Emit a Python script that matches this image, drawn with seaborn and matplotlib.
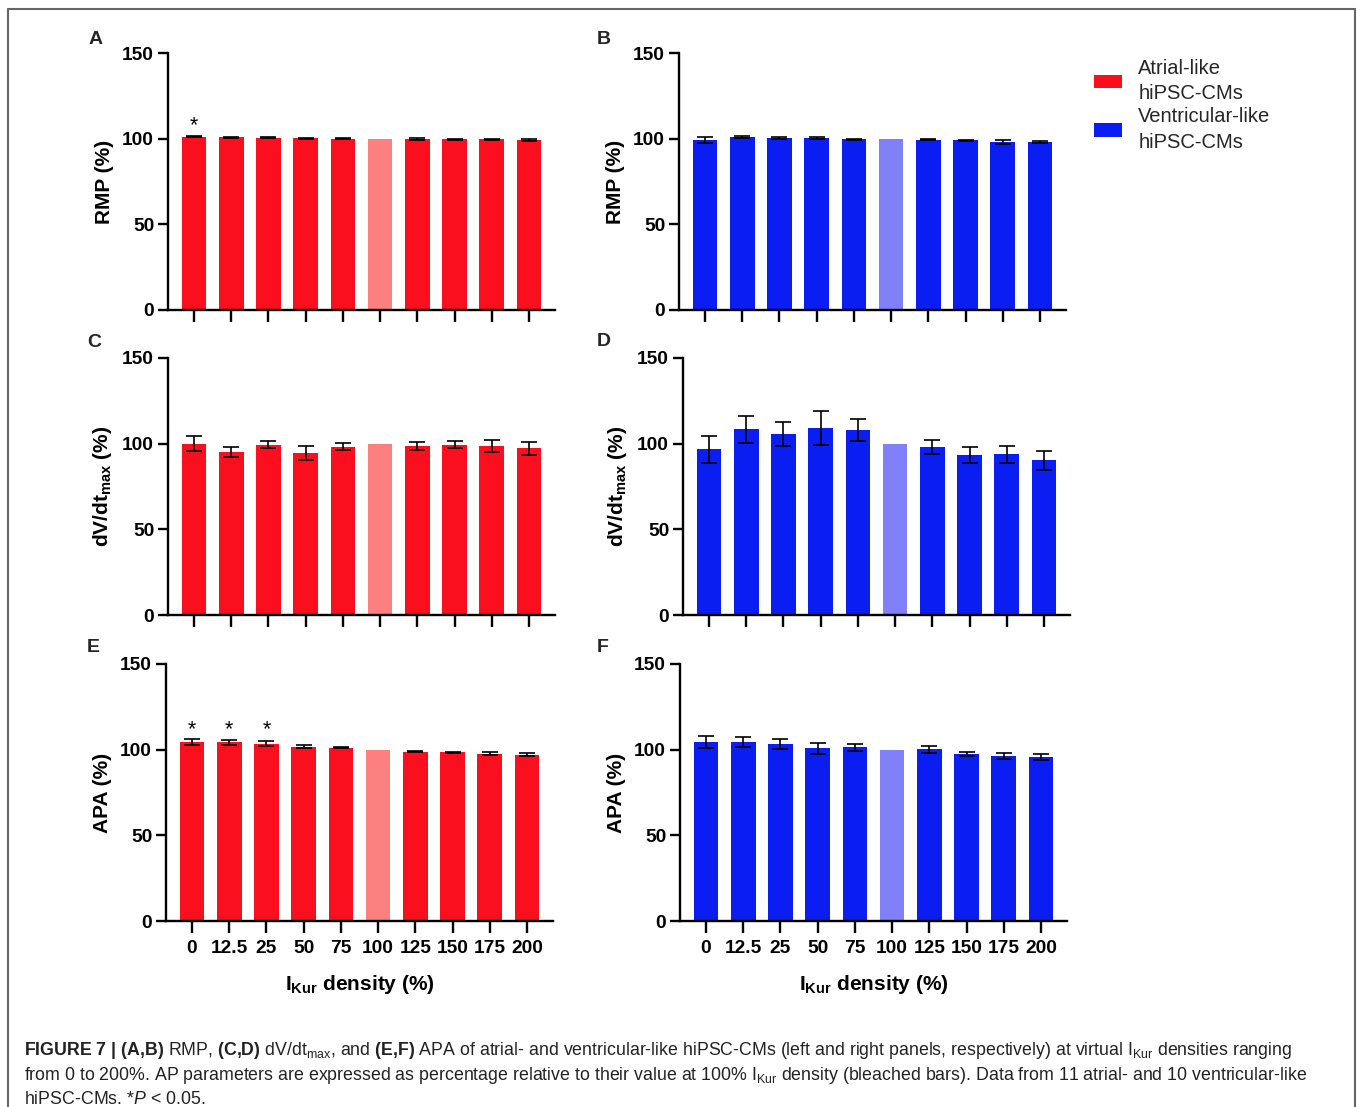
import numpy as np
import pandas as pd
import matplotlib
matplotlib.use("Agg")
import matplotlib.pyplot as plt
import seaborn as sns
from matplotlib.patches import Patch
from matplotlib.lines import Line2D

# ---------------- data ----------------
densities = ["0", "12.5", "25", "50", "75", "100", "125", "150", "175", "200"]

rmp_atrial = [101.2, 100.8, 100.6, 100.3, 100.0, 100.0, 99.8, 99.7, 99.6, 99.3]
rmp_atrial_err = [0.5, 0.4, 0.4, 0.3, 0.2, 0.0, 0.3, 0.3, 0.4, 0.5]
rmp_vent = [99.2, 100.8, 100.3, 100.3, 99.6, 100.0, 99.5, 99.2, 97.9, 98.2]
rmp_vent_err = [1.7, 0.6, 0.4, 0.7, 0.4, 0.0, 0.4, 0.3, 1.1, 0.6]

dvdt_atrial = [100.0, 95.3, 99.4, 94.7, 98.3, 100.0, 98.8, 99.4, 98.6, 97.3]
dvdt_atrial_err = [4.5, 3.0, 2.2, 4.0, 2.0, 0.0, 2.3, 2.2, 3.5, 3.7]
dvdt_vent = [96.7, 108.4, 105.8, 109.1, 108.2, 100.0, 97.9, 93.3, 93.7, 90.3]
dvdt_vent_err = [7.7, 8.0, 6.9, 10.0, 6.4, 0.0, 4.2, 4.5, 4.8, 5.4]

apa_atrial = [104.3, 104.3, 103.5, 101.8, 101.0, 100.0, 98.8, 98.4, 97.7, 97.1]
apa_atrial_err = [1.8, 1.5, 1.4, 0.8, 0.3, 0.0, 0.3, 0.3, 0.8, 1.0]
apa_vent = [104.5, 104.3, 103.3, 100.8, 101.4, 100.0, 100.2, 97.3, 96.3, 95.7]
apa_vent_err = [3.4, 2.9, 3.2, 3.3, 1.9, 0.0, 1.9, 1.2, 2.0, 1.9]

sig_rmp_atrial = ["0"]
sig_apa_atrial = ["0", "12.5", "25"]
reference_density = "100"

y_ticks = [0, 50, 100, 150]

# ---------------- style ----------------
sns.set_theme(style="ticks")
plt.rcParams["font.family"] = ["Liberation Sans", "DejaVu Sans"]
plt.rcParams["mathtext.fontset"] = "custom"
plt.rcParams["mathtext.rm"] = "Liberation Sans"
plt.rcParams["mathtext.bf"] = "Liberation Sans:bold"
plt.rcParams["mathtext.it"] = "Liberation Sans:italic"

RED = "#F90F1E"
RED_LIGHT = "#FD8080"
BLUE = "#0A1EF2"
BLUE_LIGHT = "#8080F8"

W, H = 1357, 1107
fig = plt.figure(figsize=(W / 100, H / 100), dpi=100)


def px_rect(left, top, bottom, width=387):
    return [left / W, 1 - bottom / H, width / W, (bottom - top) / H]


panels = [
    ("A", px_rect(168, 53, 310), rmp_atrial, rmp_atrial_err, RED, RED_LIGHT, "RMP (%)", sig_rmp_atrial, False),
    ("B", px_rect(679, 53, 310), rmp_vent, rmp_vent_err, BLUE, BLUE_LIGHT, "RMP (%)", [], False),
    ("C", px_rect(168, 358, 615), dvdt_atrial, dvdt_atrial_err, RED, RED_LIGHT,
     r"$\mathbf{dV/dt_{max}}$ (%)", [], False),
    ("D", px_rect(683, 358, 615), dvdt_vent, dvdt_vent_err, BLUE, BLUE_LIGHT,
     r"$\mathbf{dV/dt_{max}}$ (%)", [], False),
    ("E", px_rect(166, 664, 921), apa_atrial, apa_atrial_err, RED, RED_LIGHT, "APA (%)", sig_apa_atrial, True),
    ("F", px_rect(680, 664, 921), apa_vent, apa_vent_err, BLUE, BLUE_LIGHT, "APA (%)", [], True),
]

for letter, rect, vals, errs, col, col_light, ylab, sig, show_x in panels:
    ax = fig.add_axes(rect)
    df = pd.DataFrame({"density": densities, "value": vals, "err": errs})
    palette = {d: (col_light if d == reference_density else col) for d in densities}
    sns.barplot(data=df, x="density", y="value", hue="density", palette=palette,
                legend=False, ax=ax, width=0.66, saturation=1, errorbar=None,
                linewidth=0)
    xs = np.arange(len(densities))
    m = df["err"].to_numpy() > 0
    ax.errorbar(xs[m], df["value"].to_numpy()[m], yerr=df["err"].to_numpy()[m],
                fmt="none", ecolor="black", elinewidth=1.2, capsize=5.5, capthick=1.2)
    if sig:
        sdf = df[df["density"].isin(sig)]
        ylev = (sdf["value"] + sdf["err"]).max() + 2.5
        for d in sig:
            i = densities.index(d)
            ax.text(i, ylev, "*", ha="center", va="baseline", fontsize=15.5, color="black")

    ax.set_xlim(-0.7, 9.7)
    ax.set_ylim(0, 150)
    ax.set_yticks(y_ticks)
    sns.despine(ax=ax)
    for s in ("left", "bottom"):
        ax.spines[s].set_linewidth(1.7)
        ax.spines[s].set_color("black")
    ax.tick_params(axis="y", length=7, width=1.7, pad=3, labelsize=13.8, colors="black")
    ax.tick_params(axis="x", length=8.5, width=1.7, pad=5, labelsize=13.8, colors="black")
    for lab in ax.get_yticklabels() + ax.get_xticklabels():
        lab.set_fontweight("bold")
    ax.set_ylabel(ylab, fontsize=15, fontweight="bold", labelpad=6, color="black")
    if show_x:
        ax.set_xlabel(r"I$_{\mathbf{Kur}}$ density (%)", fontsize=15, fontweight="bold",
                      labelpad=12, color="black")
    else:
        ax.set_xlabel("")
        ax.tick_params(axis="x", labelbottom=False)
    ax.set_facecolor("white")

# panel letters
letters_pos = {"A": (96, 40), "B": (604, 40), "C": (94, 343), "D": (604, 341), "E": (93, 648), "F": (603, 648)}
for k, (x, y) in letters_pos.items():
    fig.text(x / W, 1 - y / H, k, ha="center", va="center", fontsize=14, fontweight="bold")

# legend
handles = [Patch(facecolor=RED, edgecolor="none", label="Atrial-like\nhiPSC-CMs"),
           Patch(facecolor=BLUE, edgecolor="none", label="Ventricular-like\nhiPSC-CMs")]
leg = fig.legend(handles=handles, loc="upper left", bbox_to_anchor=(1094 / W, 1 - 59 / H),
                 frameon=False, fontsize=14.5, handlelength=1.4, handleheight=0.65,
                 handletextpad=0.8, labelspacing=0.2, borderpad=0, borderaxespad=0)
for t in leg.get_texts():
    t.set_linespacing(1.43)

# outer frame
frame_kw = dict(color="#666666", linewidth=1.5, transform=fig.transFigure)
fig.add_artist(Line2D([8 / W, 8 / W], [0, 1 - 9 / H], **frame_kw))
fig.add_artist(Line2D([8 / W, 1355 / W], [1 - 9 / H, 1 - 9 / H], **frame_kw))
fig.add_artist(Line2D([1355 / W, 1355 / W], [0, 1 - 9 / H], **frame_kw))

# caption
cap_lines = [
    r"$\mathbf{FIGURE\ 7\ |\ (A{,}B)}$ RMP, $\mathbf{(C{,}D)}$ dV/dt$_{\rm max}$, and $\mathbf{(E{,}F)}$ APA of atrial- and ventricular-like hiPSC-CMs (left and right panels, respectively) at virtual I$_{\rm Kur}$ densities ranging",
    r"from 0 to 200%. AP parameters are expressed as percentage relative to their value at 100% I$_{\rm Kur}$ density (bleached bars). Data from 11 atrial- and 10 ventricular-like",
    r"hiPSC-CMs. *$P$ < 0.05.",
]
for line, yb in zip(cap_lines, [1055, 1079.5, 1104]):
    fig.text(24 / W, 1 - yb / H, line, ha="left", va="baseline", fontsize=12.8, color="#222222")

fig.savefig("out.png", dpi=100, facecolor="white")
